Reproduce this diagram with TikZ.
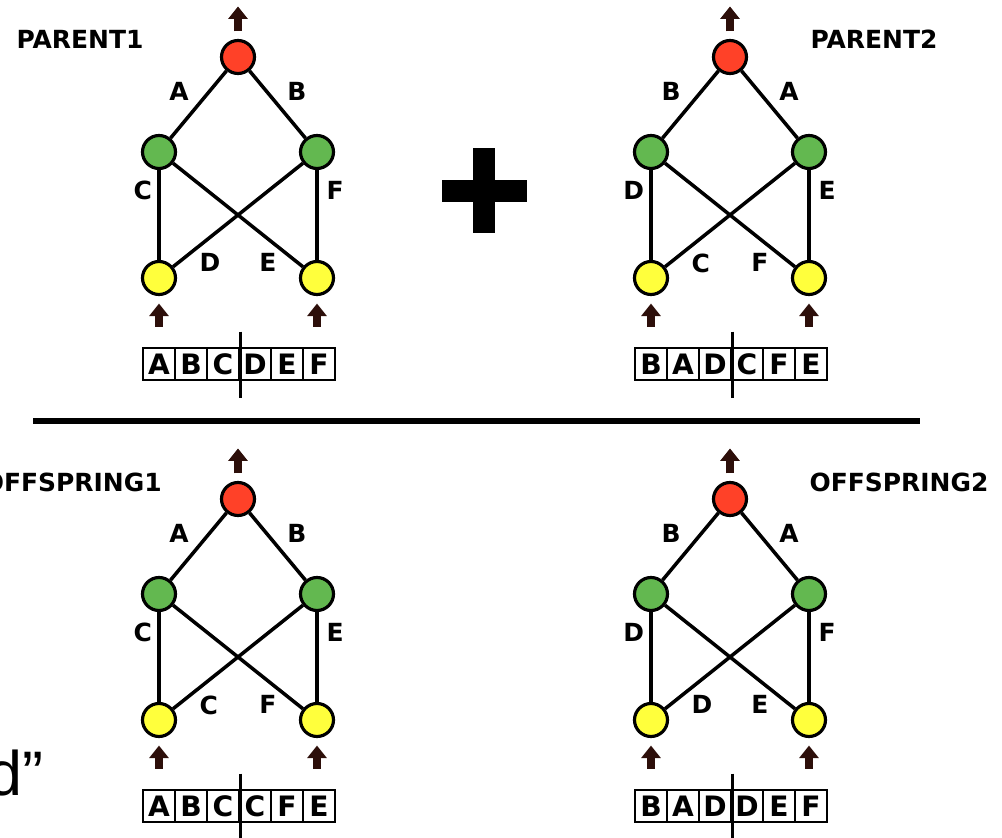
\documentclass[tikz,border=0pt]{standalone}
\usepackage{fontspec}
\setmainfont{DejaVu Sans}
\newfontfamily\quotefont{Liberation Sans}
\usepackage{tikz}
\usetikzlibrary{arrows.meta,positioning}
\definecolor{outred}{RGB}{255,65,40}
\definecolor{hidgreen}{RGB}{99,184,80}
\definecolor{inyellow}{RGB}{255,255,60}
\definecolor{arrowbrown}{RGB}{45,15,10}

\begin{document}
\begin{tikzpicture}[x=0.02cm,y=-0.02cm,font=\fontsize{14.2}{16}\selectfont\bfseries]
\useasboundingbox (0,0) rectangle (1002,838);
\clip (0,0) rectangle (1002,838);
\tikzstyle{neuron}=[circle, draw, line width=1.8pt, minimum size=0.66cm,
                    inner sep=0pt]
\tikzstyle{link}=[line width=2pt]
\tikzstyle{lbl}=[inner sep=3pt]
\tikzstyle{gene}=[rectangle, draw, line width=1.5pt, minimum size=0.64cm,
                  inner sep=0pt, font=\fontsize{16}{18}\selectfont\bfseries]
\tikzstyle{feed}=[arrowbrown, line width=4.2pt,
                  -{Triangle[width=0.38cm,length=0.25cm]}]
% titles
\node (t-p1) at (80,39){PARENT1};
\node (t-p2) at (874,39){PARENT2};
\node[anchor=east, inner sep=0pt] (t-o1) at (162,482){OFFSPRING1};
\node (t-o2) at (899,482){OFFSPRING2};
\node[anchor=base east, inner sep=0pt,
      font=\quotefont\fontsize{35.8}{40}\selectfont] (tail) at (44,795){d”};
% plus sign and separator
\fill (442,180) rectangle (527,202);
\fill (473,148) rectangle (495,233);
\draw[line width=0.14cm] (33,421) -- (920,421);
% the four networks with their genomes
\foreach \nn/\ox/\oy/\gA/\gB/\gC/\gD/\gE/\gF in
   {p1/0/0/A/B/C/D/E/F, p2/492/0/B/A/D/C/F/E,
    o1/0/442/A/B/C/C/F/E, o2/492/442/B/A/D/D/E/F}{
	\node[neuron, fill=outred] (\nn-out) at (\ox+238,\oy+57){};
	\node[neuron, fill=hidgreen] (\nn-h1) at (\ox+159,\oy+152){};
	\node[neuron, fill=hidgreen] (\nn-h2) at (\ox+317,\oy+152){};
	\node[neuron, fill=inyellow] (\nn-in1) at (\ox+159,\oy+278){};
	\node[neuron, fill=inyellow] (\nn-in2) at (\ox+317,\oy+278){};
	\draw[link] (\nn-out) -- node[lbl, pos=.55, above left]{\gA} (\nn-h1);
	\draw[link] (\nn-out) -- node[lbl, pos=.55, above right]{\gB} (\nn-h2);
	\draw[link] (\nn-h1) -- node[lbl, pos=.23, left]{\gC} (\nn-in1);
	\draw[link] (\nn-in1) -- node[lbl, inner sep=1.5pt, pos=.17, below right]{\gD} (\nn-h2);
	\draw[link] (\nn-h1) -- node[lbl, inner sep=1.5pt, pos=.83, below left]{\gE} (\nn-in2);
	\draw[link] (\nn-h2) -- node[lbl, pos=.23, right=1.5pt]{\gF} (\nn-in2);
	\draw[feed] ([yshift=0.15cm]\nn-out.north) -- ([yshift=0.65cm]\nn-out.north);
	\draw[feed] ([yshift=-0.61cm]\nn-in1.south) -- ([yshift=-0.15cm]\nn-in1.south);
	\draw[feed] ([yshift=-0.61cm]\nn-in2.south) -- ([yshift=-0.15cm]\nn-in2.south);
	\foreach \g [count=\k] in {\gA,\gB,\gC,\gD,\gE,\gF}
		\node[gene] (\nn-g\k) at (\ox+127+32*\k,\oy+364){\g};
	\draw[line width=1.5pt] ([yshift=0.3cm]\nn-g3.north east)
		-- ([yshift=-0.34cm]\nn-g3.south east);
	}
\end{tikzpicture}
\end{document}
